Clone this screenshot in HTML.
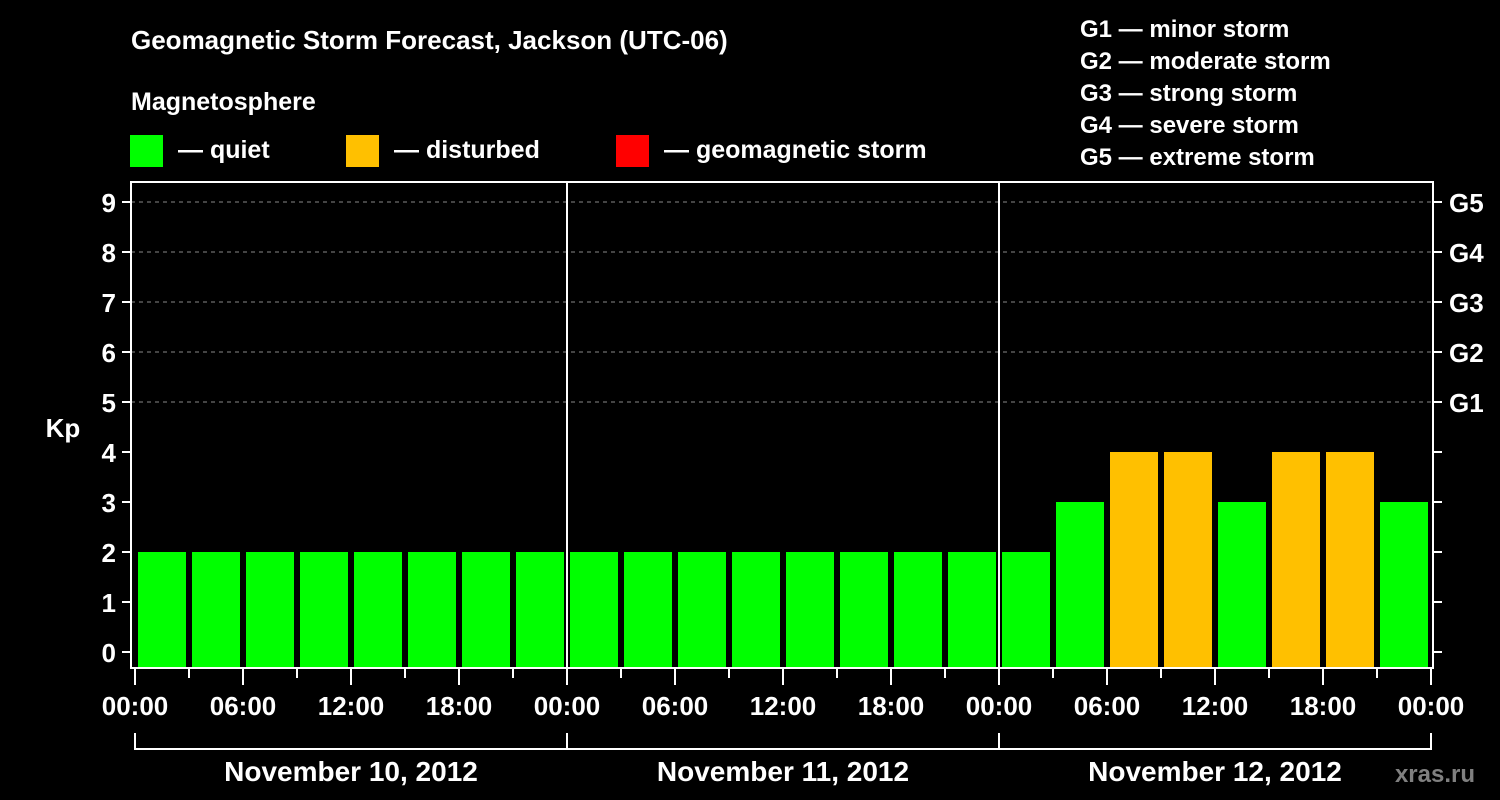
<!DOCTYPE html>
<html><head><meta charset="utf-8"><style>
html,body{margin:0;padding:0;background:#000;}
svg{display:block;font-family:"Liberation Sans",sans-serif;font-weight:bold;}
</style></head><body>
<svg id="chart" width="1500" height="800" viewBox="0 0 1500 800">
<rect x="0" y="0" width="1500" height="800" fill="#000"/>
<text x="131" y="49" fill="#fff" font-size="26">Geomagnetic Storm Forecast, Jackson (UTC-06)</text>
<text x="131" y="110" fill="#fff" font-size="25">Magnetosphere</text>
<g>
<rect x="130" y="135" width="33" height="32" fill="#00ff00"/>
<text x="178" y="158" fill="#fff" font-size="25">— quiet</text></g>
<g>
<rect x="346" y="135" width="33" height="32" fill="#ffc000"/>
<text x="394" y="158" fill="#fff" font-size="25">— disturbed</text></g>
<g>
<rect x="616" y="135" width="33" height="32" fill="#ff0000"/>
<text x="664" y="158" fill="#fff" font-size="25">— geomagnetic storm</text></g>
<g fill="#fff" font-size="24">
<text x="1080" y="37">G1 — minor storm</text>
<text x="1080" y="69">G2 — moderate storm</text>
<text x="1080" y="101">G3 — strong storm</text>
<text x="1080" y="133">G4 — severe storm</text>
<text x="1080" y="165">G5 — extreme storm</text>
</g>
<text x="63" y="437" fill="#fff" font-size="26" text-anchor="middle">Kp</text>
<text x="1475" y="782" fill="#808080" font-size="24" text-anchor="end">xras.ru</text>
<g id="grid"></g><g id="bars"></g><g id="axes"></g>
</svg>
<script>
const kpValues = [2,2,2,2,2,2,2,2, 2,2,2,2,2,2,2,2, 2,3,4,4,3,4,4,3];
const yTicks = [0,1,2,3,4,5,6,7,8,9];
const gLabels = ["G1","G2","G3","G4","G5"];
const gLevels = [5,6,7,8,9];
const xTickLabels = ["00:00","06:00","12:00","18:00","00:00","06:00","12:00","18:00","00:00","06:00","12:00","18:00","00:00"];
const dayLabels = ["November 10, 2012","November 11, 2012","November 12, 2012"];

const NS="http://www.w3.org/2000/svg";
const X0=135, SLOT=54, Y0=652, UNIT=50, TOP=182, BOT=667, LEFT=131, RIGHT=1433;
const xs = i => X0 + i*SLOT;
const ys = v => Y0 - v*UNIT;
function mk(tag, attrs, parent){const e=document.createElementNS(NS,tag);for(const k in attrs)e.setAttribute(k,attrs[k]);parent.appendChild(e);return e;}
const grid=document.getElementById('grid'), bars=document.getElementById('bars'), axes=document.getElementById('axes');

yTicks.forEach(v=>{
  if(v>=5){const l=mk('line',{x1:LEFT,x2:RIGHT,y1:ys(v),y2:ys(v),stroke:'#888','stroke-width':1,'stroke-dasharray':'4,4'},grid);
  
  }
  const t=mk('line',{x1:122,x2:LEFT,y1:ys(v),y2:ys(v),stroke:'#fff','stroke-width':2},axes);
  
  
  const t2=mk('line',{x1:RIGHT,x2:1442,y1:ys(v),y2:ys(v),stroke:'#fff','stroke-width':2},axes);
  
  
  const tx=mk('text',{x:116,y:ys(v)+10,fill:'#fff','font-size':26,'text-anchor':'end'},axes);
  tx.textContent=v;
  
  
});
gLabels.forEach((g,i)=>{
  const tx=mk('text',{x:1449,y:ys(gLevels[i])+10,fill:'#fff','font-size':26},axes);
  tx.textContent=g;
  
  
});
kpValues.forEach((v,i)=>{
  const col = v>=5?'#ff0000':(v>=4?'#ffc000':'#00ff00');
  const r=mk('rect',{x:xs(i)+3,y:ys(v),width:48,height:BOT-ys(v),fill:col},bars);
  
  
});
const frame=mk('rect',{x:LEFT,y:TOP,width:RIGHT-LEFT,height:BOT-TOP+1,fill:'none',stroke:'#fff','stroke-width':2},axes);


for(let d=1;d<dayLabels.length;d++){
  const l=mk('line',{x1:xs(d*8),x2:xs(d*8),y1:TOP,y2:BOT,stroke:'#fff','stroke-width':2},axes);
  
  
}
for(let i=0;i<=kpValues.length;i++){
  const major=i%2===0;
  const l=mk('line',{x1:xs(i),x2:xs(i),y1:BOT,y2:major?685:678,stroke:'#fff','stroke-width':2},axes);
  
  
}
xTickLabels.forEach((s,i)=>{
  const tx=mk('text',{x:xs(i*2),y:715,fill:'#fff','font-size':26,'text-anchor':'middle'},axes);
  tx.textContent=s;
  
  
});
dayLabels.forEach((s,d)=>{
  const a=xs(d*8), b=xs(d*8+8);
  const p=mk('path',{d:`M${a},733 V749 H${b} V733`,fill:'none',stroke:'#fff','stroke-width':2},axes);
  
  
  const tx=mk('text',{x:(a+b)/2,y:781,fill:'#fff','font-size':28,'text-anchor':'middle'},axes);
  tx.textContent=s;
  
  
});
</script>
</body></html>
